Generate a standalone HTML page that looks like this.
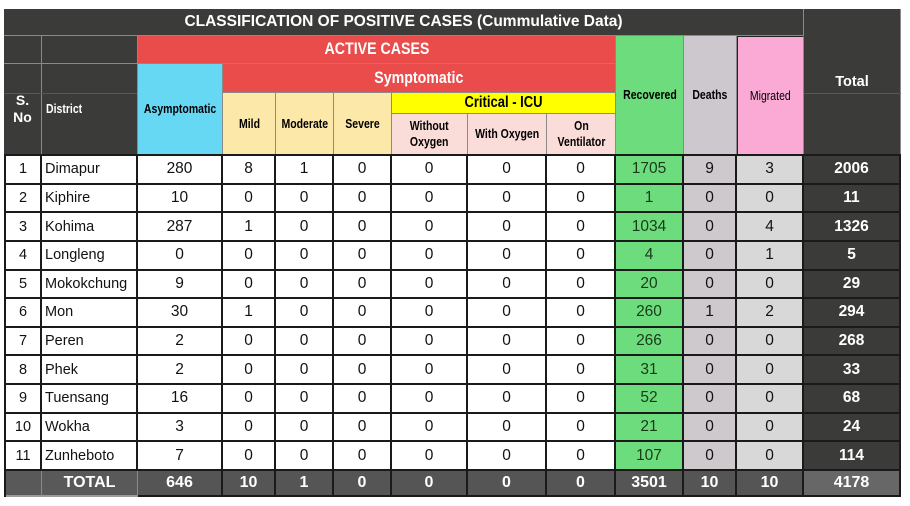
<!DOCTYPE html>
<html><head><meta charset="utf-8">
<style>
*{margin:0;padding:0;box-sizing:border-box}
body{width:910px;height:506px;background:#fff;position:relative;overflow:hidden;font-family:"Liberation Sans",Arial,sans-serif}
.c{position:absolute;display:flex;align-items:center;justify-content:center;text-align:center;border-right:1px solid #8a8a8a;border-bottom:1px solid #8a8a8a;color:#000}
.d{background:#3b3b39;color:#fff}
.h{display:inline-block;font-weight:bold;font-size:12.5px;line-height:16px;transform:scaleX(.84);white-space:nowrap}
.big{display:inline-block;font-weight:bold;font-size:16.5px;transform:scaleX(.86);white-space:nowrap;color:#fff}
.ln{position:absolute;height:1px;background:#585856}
.g{position:absolute;left:4px;top:154px;border-left:2px solid #1a1a1a;border-top:2px solid #1a1a1a;display:grid;grid-template-columns:36px 96px 85px 53px 58px 58px 76px 79px 69px 68px 53px 67px 97px;grid-template-rows:repeat(11,28.636px) 26px}
.g div{border-right:2px solid #1a1a1a;border-bottom:2px solid #1a1a1a;display:flex;align-items:center;justify-content:center;font-size:15.5px;color:#111;background:#fff;white-space:nowrap}
.g .s{font-size:14.5px}
.g .n{justify-content:flex-start;padding-left:3px;font-size:14.5px}
.g .r{background:#6ddc7c;color:#1a3a1a}
.g .e{background:#cdc9cd}
.g .m{background:#d8d8d8}
.g .t{background:#3b3b39;color:#fff;font-weight:bold}
.g .T{background:#555;color:#fff;font-weight:bold;font-size:16px}
.g .TL{background:#595959;color:#fff;font-weight:bold;font-size:16px;border-right:1px solid #8a8a8a;border-bottom:2px solid #9a9a9a}
.g .TT{background:#676767;color:#fff;font-weight:bold;font-size:16px}
</style></head><body>

<!-- Header -->
<div class="c d" style="left:4px;top:9px;width:800px;height:27px;font-weight:bold;font-size:15.5px;">CLASSIFICATION OF POSITIVE CASES (Cummulative Data)</div>
<div class="c d" style="left:804px;top:9px;width:97px;height:146px;font-weight:bold;font-size:14.5px;">Total</div>

<div class="c d" style="left:4px;top:36px;width:38px;height:28px;"></div>
<div class="c d" style="left:42px;top:36px;width:96px;height:28px;"></div>
<div class="c d" style="left:4px;top:64px;width:38px;height:91px;font-weight:bold;font-size:14px;line-height:17px;">S.<br>No</div>
<div class="c d" style="left:42px;top:64px;width:96px;height:91px;justify-content:flex-start;padding-left:4px;"><span class="h" style="transform-origin:left center">District</span></div>
<div class="ln" style="left:4px;top:93px;width:133px;"></div>
<div class="ln" style="left:804px;top:93px;width:97px;"></div>

<div class="c" style="left:138px;top:36px;width:478px;height:28px;background:#e94c4b;"><span class="big">ACTIVE CASES</span></div>
<div class="c" style="left:138px;top:64px;width:85px;height:91px;background:#66d8f4;"><span class="h">Asymptomatic</span></div>
<div class="c" style="left:223px;top:64px;width:393px;height:29px;background:#e94c4b;"><span class="big">Symptomatic</span></div>
<div class="c" style="left:223px;top:93px;width:53px;height:62px;background:#fce8a8;"><span class="h">Mild</span></div>
<div class="c" style="left:276px;top:93px;width:58px;height:62px;background:#fce8a8;"><span class="h">Moderate</span></div>
<div class="c" style="left:334px;top:93px;width:58px;height:62px;background:#fce8a8;"><span class="h">Severe</span></div>
<div class="c" style="left:392px;top:93px;width:224px;height:21px;background:#ffff00;"><span class="h" style="font-size:15.5px;">Critical - ICU</span></div>
<div class="c" style="left:392px;top:114px;width:76px;height:41px;background:#fadcd9;"><span class="h">Without<br>Oxygen</span></div>
<div class="c" style="left:468px;top:114px;width:79px;height:41px;background:#fadcd9;"><span class="h">With Oxygen</span></div>
<div class="c" style="left:547px;top:114px;width:69px;height:41px;background:#fadcd9;"><span class="h">On<br>Ventilator</span></div>
<div class="c" style="left:616px;top:36px;width:68px;height:119px;background:#6ddc7c;"><span class="h">Recovered</span></div>
<div class="c" style="left:684px;top:36px;width:53px;height:119px;background:#cdc8cd;"><span class="h">Deaths</span></div>
<div class="c" style="left:737px;top:36px;width:67px;height:119px;background:#fbaad5;border-top:1px solid #222;border-left:1px solid #222;"><span class="h" style="font-weight:normal;">Migrated</span></div>

<!-- Data grid -->
<div class="g">
<div class="s">1</div><div class="n">Dimapur</div><div>280</div><div>8</div><div>1</div><div>0</div><div>0</div><div>0</div><div>0</div><div class="r">1705</div><div class="e">9</div><div class="m">3</div><div class="t">2006</div>
<div class="s">2</div><div class="n">Kiphire</div><div>10</div><div>0</div><div>0</div><div>0</div><div>0</div><div>0</div><div>0</div><div class="r">1</div><div class="e">0</div><div class="m">0</div><div class="t">11</div>
<div class="s">3</div><div class="n">Kohima</div><div>287</div><div>1</div><div>0</div><div>0</div><div>0</div><div>0</div><div>0</div><div class="r">1034</div><div class="e">0</div><div class="m">4</div><div class="t">1326</div>
<div class="s">4</div><div class="n">Longleng</div><div>0</div><div>0</div><div>0</div><div>0</div><div>0</div><div>0</div><div>0</div><div class="r">4</div><div class="e">0</div><div class="m">1</div><div class="t">5</div>
<div class="s">5</div><div class="n">Mokokchung</div><div>9</div><div>0</div><div>0</div><div>0</div><div>0</div><div>0</div><div>0</div><div class="r">20</div><div class="e">0</div><div class="m">0</div><div class="t">29</div>
<div class="s">6</div><div class="n">Mon</div><div>30</div><div>1</div><div>0</div><div>0</div><div>0</div><div>0</div><div>0</div><div class="r">260</div><div class="e">1</div><div class="m">2</div><div class="t">294</div>
<div class="s">7</div><div class="n">Peren</div><div>2</div><div>0</div><div>0</div><div>0</div><div>0</div><div>0</div><div>0</div><div class="r">266</div><div class="e">0</div><div class="m">0</div><div class="t">268</div>
<div class="s">8</div><div class="n">Phek</div><div>2</div><div>0</div><div>0</div><div>0</div><div>0</div><div>0</div><div>0</div><div class="r">31</div><div class="e">0</div><div class="m">0</div><div class="t">33</div>
<div class="s">9</div><div class="n">Tuensang</div><div>16</div><div>0</div><div>0</div><div>0</div><div>0</div><div>0</div><div>0</div><div class="r">52</div><div class="e">0</div><div class="m">0</div><div class="t">68</div>
<div class="s">10</div><div class="n">Wokha</div><div>3</div><div>0</div><div>0</div><div>0</div><div>0</div><div>0</div><div>0</div><div class="r">21</div><div class="e">0</div><div class="m">0</div><div class="t">24</div>
<div class="s">11</div><div class="n">Zunheboto</div><div>7</div><div>0</div><div>0</div><div>0</div><div>0</div><div>0</div><div>0</div><div class="r">107</div><div class="e">0</div><div class="m">0</div><div class="t">114</div>
<div class="TL"></div><div class="TL">TOTAL</div><div class="T">646</div><div class="T">10</div><div class="T">1</div><div class="T">0</div><div class="T">0</div><div class="T">0</div><div class="T">0</div><div class="T">3501</div><div class="T">10</div><div class="T">10</div><div class="TT">4178</div>
</div>

</body></html>
